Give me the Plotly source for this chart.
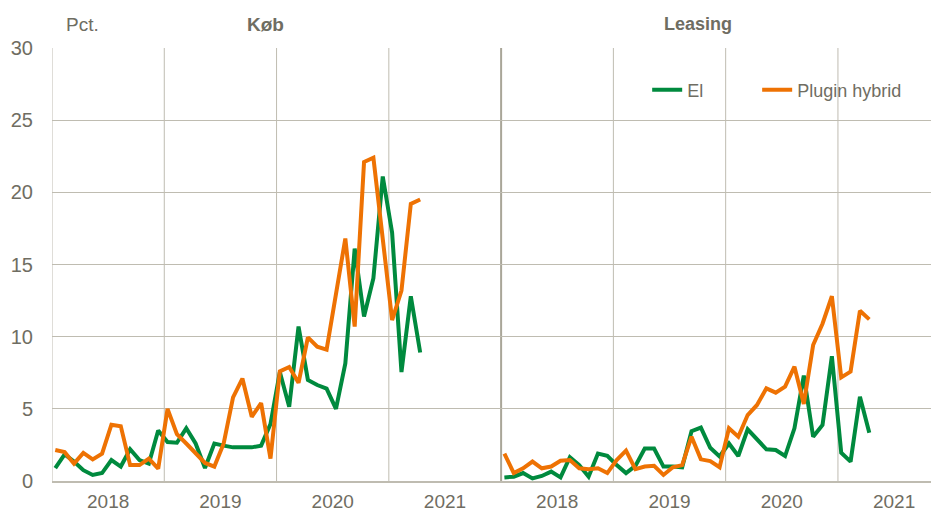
import plotly.graph_objects as go

# Monthly shares (pct.), Jan 2018 - Apr 2021
months = [f"{y}-{m:02d}" for y in range(2018, 2022) for m in range(1, 13)][:40]

kob_el = [0.9, 1.85, 1.35, 0.75, 0.42, 0.55, 1.45, 1.0, 2.2, 1.45, 1.2, 3.5,
          2.7, 2.65, 3.65, 2.6, 0.9, 2.6, 2.45, 2.33, 2.33, 2.33, 2.45, 3.95,
          7.55, 5.15, 10.7, 7.0, 6.65, 6.4, 5.0, 8.15, 16.1, 11.4, 14.05, 21.1,
          17.2, 7.55, 12.8, 8.9]
kob_phev = [2.15, 2.0, 1.2, 1.95, 1.5, 1.9, 3.9, 3.8, 1.1, 1.1, 1.55, 0.85,
            5.0, 3.25, 2.6, 1.9, 1.25, 1.0, 2.6, 5.8, 7.1, 4.45, 5.4, 1.55,
            7.6, 7.9, 6.8, 9.95, 9.3, 9.1, 12.8, 16.8, 10.7, 22.1, 22.4, 16.6,
            11.15, 13.2, 19.2, 19.5]
lea_el = [0.25, 0.3, 0.55, 0.18, 0.35, 0.65, 0.25, 1.65, 1.1, 0.3, 1.9, 1.75,
          1.1, 0.55, 1.05, 2.25, 2.25, 1.0, 1.0, 0.95, 3.45, 3.7, 2.3, 1.7,
          2.6, 1.73, 3.58, 2.84, 2.2, 2.15, 1.73, 3.65, 7.3, 3.07, 3.88, 8.65,
          1.96, 1.34, 5.84, 3.35]
lea_phev = [1.9, 0.55, 0.88, 1.35, 0.88, 1.0, 1.4, 1.45, 0.88, 0.82, 0.88, 0.55,
            1.45, 2.1, 0.82, 1.0, 1.05, 0.42, 0.95, 1.1, 3.07, 1.5, 1.38, 0.95,
            3.65, 3.07, 4.57, 5.27, 6.42, 6.12, 6.54, 7.92, 5.34, 9.42, 10.9, 12.8,
            7.18, 7.58, 11.8, 11.2]

panels = ["Køb", "Leasing"]
year_labels = ["2018", "2019", "2020", "2021"]
series_names = ["El", "Plugin hybrid"]

GREEN = "#008a3e"
ORANGE = "#ee7203"
GRID = "#bfbcb1"
TXT = "#6f6d62"
FONT = "Liberation Sans, Arial, sans-serif"

def xpos(panel_idx, n):
    return [panel_idx * 48 + i + 0.35 for i in range(n)]

fig = go.Figure()
data = [(kob_el, kob_phev), (lea_el, lea_phev)]
for p, (el, ph) in enumerate(data):
    fig.add_trace(go.Scatter(x=xpos(p, len(el)), y=el, mode="lines",
                             line=dict(color=GREEN, width=4), name=series_names[0],
                             showlegend=(p == 0), legend="legend", customdata=months))
    fig.add_trace(go.Scatter(x=xpos(p, len(ph)), y=ph, mode="lines",
                             line=dict(color=ORANGE, width=4), name=series_names[1],
                             showlegend=(p == 0), legend="legend2", customdata=months))

# vertical year gridlines and panel separator
for k in range(0, 8):
    fig.add_shape(type="line", xref="x", yref="paper", x0=k * 12, x1=k * 12, y0=0, y1=1,
                  line=dict(color="#a9a698" if k == 4 else GRID, width=2 if k == 4 else 1),
                  layer="below")

tickvals = [p * 48 + j * 12 + 6 for p in range(2) for j in range(4)]
ticktext = year_labels * 2

fig.update_xaxes(range=[0, 94.8], tickvals=tickvals, ticktext=ticktext, showgrid=False,
                 zeroline=False, showline=True, linecolor=GRID, linewidth=2,
                 ticks="", tickfont=dict(size=19, color=TXT, family=FONT),
                 ticklabelstandoff=2, automargin=False)
fig.update_yaxes(range=[0, 30], dtick=5, showgrid=True, gridcolor=GRID, gridwidth=1,
                 zeroline=False, showline=False, ticks="",
                 tickfont=dict(size=20, color=TXT, family=FONT), ticklabelstandoff=18,
                 automargin=False)

fig.add_annotation(text="<b>Køb</b>", x=22.8, y=1, xref="x", yref="paper", yshift=24,
                   showarrow=False, font=dict(size=19, color=TXT, family=FONT), yanchor="middle")
fig.add_annotation(text="<b>Leasing</b>", x=69, y=1, xref="x", yref="paper", yshift=24,
                   showarrow=False, font=dict(size=18, color=TXT, family=FONT), yanchor="middle")
fig.add_annotation(text="Pct.", x=0, y=1, xref="paper", yref="paper", xshift=12, yshift=24,
                   showarrow=False, xanchor="left", yanchor="middle",
                   font=dict(size=19, color=TXT, family=FONT))

leg_style = dict(orientation="h", yanchor="middle", bgcolor="rgba(0,0,0,0)",
                 font=dict(size=18, color=TXT, family=FONT), xanchor="left")

# page body has an 8px margin: figure sized to fill the rest of the 939x515 window
fig.update_layout(
    width=931, height=507,
    margin=dict(l=44, r=0, t=40, b=34, autoexpand=False),
    plot_bgcolor="white", paper_bgcolor="white",
    font=dict(family=FONT, color=TXT),
    legend=dict(x=0.671, y=0.903, **leg_style),
    legend2=dict(x=0.795, y=0.903, **leg_style),
)

fig.write_html("out.html")
